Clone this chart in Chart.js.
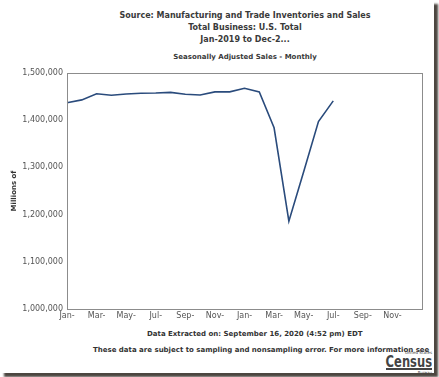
<!DOCTYPE html>
<html lang="en">
  <head>
    <meta charset="UTF-8" />
    <title>Manufacturing and Trade Inventories and Sales</title>
    <script src="https://cdn.jsdelivr.net/npm/chart.js@4.4.1/dist/chart.umd.min.js"></script>
    <style>
      body {
        margin: 0;
        background: #ffffff;
        font-family: "DejaVu Sans", Verdana, sans-serif;
      }
      .frame {
        position: absolute;
        left: 0;
        top: 0;
        width: 434px;
        height: 373px;
        background: #ffffff;
        box-shadow: 4px 4px 2px rgba(45, 38, 30, 0.85);
        overflow: hidden;
      }
      .titles {
        position: absolute;
        left: 0;
        width: 490px;
        text-align: center;
        color: #3a3a3a;
        font-weight: bold;
        font-size: 8px;
      }
      .chart-box {
        position: absolute;
        left: 0;
        top: 0;
        width: 434px;
        height: 325px;
      }
      .note {
        position: absolute;
        color: #333;
        font-weight: bold;
        font-size: 7px;
        white-space: nowrap;
      }
      .logo {
        position: absolute;
        left: 352px;
        top: 350px;
        width: 80px;
        color: #444;
        text-align: right;
      }
      .logo .small {
        font-size: 4px;
        line-height: 5px;
      }
      .logo .big {
        font-size: 16px;
        line-height: 13px;
        font-weight: bold;
        white-space: nowrap;
        transform: scaleX(0.72);
        transform-origin: right center;
      }
      .logo .bar {
        height: 2px;
        background: #444;
        margin-left: 34px;
      }
    </style>
  </head>
  <body>
    <div class="frame">
      <div class="titles" style="top: 10px; line-height: 12px">
        Source: Manufacturing and Trade Inventories and Sales<br />
        Total Business: U.S. Total<br />
        Jan-2019 to Dec-2...
      </div>
      <div class="titles" style="top: 53px; font-size: 7px">
        Seasonally Adjusted Sales - Monthly
      </div>
      <div class="chart-box"><canvas id="salesChart"></canvas></div>
      <div class="note" style="left: 147px; top: 330px">
        Data Extracted on: September 16, 2020 (4:52 pm) EDT
      </div>
      <div class="note" style="left: 93px; top: 346px">
        These data are subject to sampling and nonsampling error. For more
        information see
      </div>
      <div class="logo">
        <div class="small">United States</div>
        <div class="big">Census</div>
        <div class="bar"></div>
        <div class="small">Bureau</div>
      </div>
    </div>

    <script>
      // months on the axis, Jan-2019 .. Jan-2021
      const months = [
        "Jan-2019", "Feb-2019", "Mar-2019", "Apr-2019", "May-2019", "Jun-2019",
        "Jul-2019", "Aug-2019", "Sep-2019", "Oct-2019", "Nov-2019", "Dec-2019",
        "Jan-2020", "Feb-2020", "Mar-2020", "Apr-2020", "May-2020", "Jun-2020",
        "Jul-2020", "Aug-2020", "Sep-2020", "Oct-2020", "Nov-2020", "Dec-2020",
        "Jan-2021",
      ];
      // sales, millions of dollars (Jan-2019 .. Jul-2020)
      const sales = [
        1437000, 1443000, 1456000, 1453000, 1455500, 1457000, 1457600,
        1459000, 1455000, 1453500, 1460000, 1460000, 1467500, 1460000,
        1384000, 1186000, 1291000, 1397000, 1441000,
      ];
      const tickLabels = [
        "Jan-", "Mar-", "May-", "Jul-", "Sep-", "Nov-",
        "Jan-", "Mar-", "May-", "Jul-", "Sep-", "Nov-",
      ];
      const yTicks = [1000000, 1100000, 1200000, 1300000, 1400000, 1500000];

      const tickFont = { family: "DejaVu Sans", size: 8 };

      // box round the plot area
      const plotBox = {
        id: "plotBox",
        afterDraw(chart) {
          const a = chart.chartArea;
          const ctx = chart.ctx;
          ctx.save();
          ctx.strokeStyle = "#8c8c8c";
          ctx.lineWidth = 1;
          ctx.strokeRect(a.left + 0.5, a.top + 0.5, a.right - a.left, a.bottom - a.top);
          ctx.restore();
        },
      };

      new Chart(document.getElementById("salesChart"), {
        type: "line",
        data: {
          labels: months,
          datasets: [
            {
              label: "Sales",
              data: sales,
              borderColor: "#2a4b7c",
              borderWidth: 1.6,
              pointRadius: 0,
              tension: 0,
              fill: false,
            },
          ],
        },
        options: {
          responsive: true,
          maintainAspectRatio: false,
          animation: false,
          layout: { padding: { top: 73, left: 8, right: 12, bottom: 0 } },
          plugins: {
            legend: { display: false },
            tooltip: { enabled: false },
          },
          scales: {
            x: {
              offset: false,
              grid: { display: false, drawTicks: false },
              border: { display: false },
              afterFit: (s) => { s.height = 16; },
              ticks: {
                autoSkip: false,
                maxRotation: 0,
                padding: 2,
                color: "#555",
                font: tickFont,
                callback: (v, i) => (i % 2 === 0 && i < 24 ? tickLabels[i / 2] : null),
              },
            },
            y: {
              min: yTicks[0],
              max: yTicks[yTicks.length - 1],
              afterFit: (s) => { s.width = 59; },
              afterBuildTicks: (s) => { s.ticks = yTicks.map((v) => ({ value: v })); },
              grid: { display: false, drawTicks: false },
              border: { display: false },
              title: {
                display: true,
                text: "Millions of",
                color: "#333",
                font: { family: "DejaVu Sans", size: 7, weight: "bold" },
                padding: { top: 2, bottom: 0 },
              },
              ticks: {
                padding: 4,
                color: "#555",
                font: tickFont,
                callback: (v) => v.toLocaleString("en-US"),
              },
            },
          },
        },
        plugins: [plotBox],
      });
    </script>
  </body>
</html>
